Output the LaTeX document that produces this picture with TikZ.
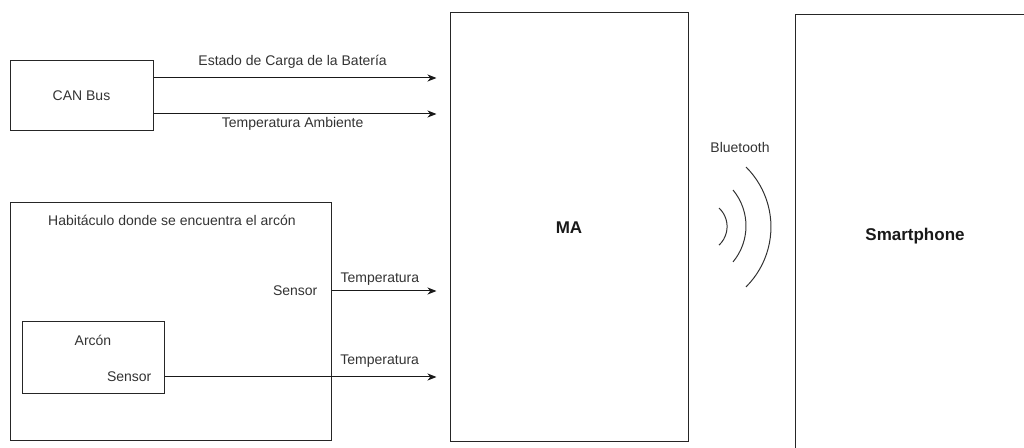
\documentclass[tikz,border=0pt]{standalone}
\usepackage{fontspec}
\setmainfont{Liberation Sans}
\usetikzlibrary{positioning, arrows.meta}

\begin{document}
\begin{tikzpicture}[
    x=0.75pt, y=-0.75pt,
    box/.style = {draw=black!85, line width=0.75pt, rectangle, inner sep=0pt},
    lbl/.style = {font=\fontsize{10.5}{12}\selectfont, text=black!80, inner sep=1pt},
    big/.style = {font=\fontsize{12.75}{15}\selectfont\bfseries, text=black!90},
    arrow/.style = {-{Stealth[length=6.75pt, width=5.25pt, inset=2pt]}, line width=0.75pt,
                    draw=black!90, shorten >=9.75pt},
    wave/.style = {line width=0.75pt, draw=black!80}
]
\clip (0,0) rectangle (1024,448);

% sources
\node[box, lbl, minimum width=107.25pt, minimum height=52.5pt] (can) at (81.5,96) {CAN Bus};
\node[box, minimum width=240.75pt, minimum height=178.5pt] (hab) at (170.5,322) {};
\node[lbl] (habtitle) at (172,220) {Habitáculo donde se encuentra el arcón};
\node[lbl, anchor=east] (senshab) at (319,291) {Sensor};
\node[box, minimum width=106.5pt, minimum height=54pt] (arcon) at (93,358) {};
\node[lbl] (arcontitle) at (93,340) {Arcón};
\node[lbl, anchor=east] (sensarc) at (153,377) {Sensor};

% receivers
\node[box, big, minimum width=178.5pt, minimum height=321.75pt] (ma) at (569,227.5) {MA};
\node[box, big, minimum width=180pt, minimum height=331.5pt] (phone) at (915,236) {Smartphone};

\coordinate (cantop) at ([yshift=13.5pt]can.east);
\coordinate (canbot) at ([yshift=-13.5pt]can.east);

\draw[arrow] (cantop) -- (cantop -| ma.west)
    node[lbl, pos=0.47, above=6pt] {Estado de Carga de la Batería};
\draw[arrow] (canbot) -- (canbot -| ma.west)
    node[lbl, pos=0.47, below=1pt] {Temperatura Ambiente};
\draw[arrow] (hab.east |- senshab) -- (ma.west |- senshab)
    node[lbl, pos=0.41, above=3pt] {Temperatura};
\draw[arrow] (arcon.east |- sensarc) -- (ma.west |- sensarc)
    node[lbl, pos=0.755, above=6pt] {Temperatura};

% bluetooth link
\node[lbl] (bt) at (740,148) {Bluetooth};
\draw[wave] (719,208) arc[start angle=-47, end angle=47, radius=25.4];
\draw[wave] (733,190) arc[start angle=-39.7, end angle=39.7, radius=56.3];
\draw[wave] (746,167) arc[start angle=-45.2, end angle=45.2, radius=84.5];

\end{tikzpicture}
\end{document}
